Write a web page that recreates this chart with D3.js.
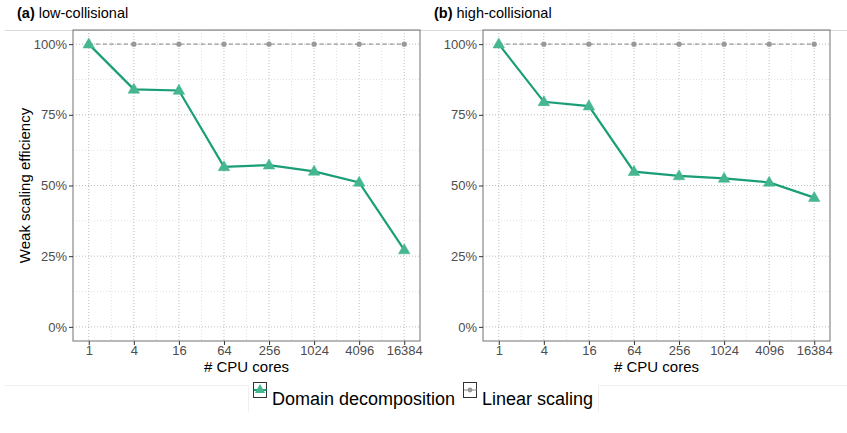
<!DOCTYPE html>
<html>
<head>
<meta charset="utf-8">
<script src="https://cdn.jsdelivr.net/npm/d3@7"></script>
<style>
  body { margin: 0; background: white; }
  text { font-family: "Liberation Sans", Arial, sans-serif; }
</style>
</head>
<body>
<div id="chart"></div>
<script>
// data
var cores = [1, 4, 16, 64, 256, 1024, 4096, 16384];
var minorCores = [2, 8, 32, 128, 512, 2048, 8192];
var yTicks = [0, 0.25, 0.5, 0.75, 1];
var yMinor = [0.125, 0.375, 0.625, 0.875];
var lowCollisional = [1.0, 0.840, 0.836, 0.566, 0.572, 0.550, 0.511, 0.272];
var highCollisional = [1.0, 0.796, 0.781, 0.549, 0.534, 0.525, 0.511, 0.457];
var linearScaling = [1, 1, 1, 1, 1, 1, 1, 1];
var panelTitles = [["(a)", " low-collisional"], ["(b)", " high-collisional"]];

var W = 847, H = 433;
var green = "#1b9e77", greenFill = "#45b690", gray = "#999999";

var svg = d3.select("#chart").append("svg")
    .attr("width", W)
    .attr("height", H);

// top separator line
svg.append("line")
    .attr("x1", 5).attr("x2", W)
    .attr("y1", 30.5).attr("y2", 30.5)
    .attr("stroke", "#d9d9d9").attr("stroke-width", 1);

var panels = [
    { left: 73, title: panelTitles[0], values: lowCollisional, titleX: 17 },
    { left: 483, title: panelTitles[1], values: highCollisional, titleX: 434 }
];
var pTop = 30, pWidth = 347, pHeight = 311;

panels.forEach(function (p, idx) {
    var expX = pWidth * 0.05 / 1.1;
    var x = d3.scaleLog().base(2)
        .domain([1, 16384])
        .range([p.left + expX, p.left + pWidth - expX]);
    var y = d3.scaleLinear()
        .domain([-0.05, 1.05])
        .range([pTop + pHeight, pTop]);

    var g = svg.append("g");

    // minor grid
    g.selectAll(".minorx").data(minorCores).enter().append("line")
        .attr("x1", d => x(d)).attr("x2", d => x(d))
        .attr("y1", pTop).attr("y2", pTop + pHeight)
        .attr("stroke", "#e2e2e2").attr("stroke-dasharray", "1,2");
    g.selectAll(".minory").data(yMinor).enter().append("line")
        .attr("x1", p.left).attr("x2", p.left + pWidth)
        .attr("y1", d => y(d)).attr("y2", d => y(d))
        .attr("stroke", "#e2e2e2").attr("stroke-dasharray", "1,2");

    // major grid
    g.selectAll(".majorx").data(cores).enter().append("line")
        .attr("x1", d => x(d)).attr("x2", d => x(d))
        .attr("y1", pTop).attr("y2", pTop + pHeight)
        .attr("stroke", "#bdbdbd").attr("stroke-dasharray", "1,2");
    g.selectAll(".majory").data(yTicks).enter().append("line")
        .attr("x1", p.left).attr("x2", p.left + pWidth)
        .attr("y1", d => y(d)).attr("y2", d => y(d))
        .attr("stroke", "#bdbdbd").attr("stroke-dasharray", "1,2");

    // linear scaling
    var lineGen = d3.line().x((d, i) => x(cores[i])).y(d => y(d));
    g.append("path")
        .datum(linearScaling)
        .attr("d", lineGen)
        .attr("fill", "none")
        .attr("stroke", gray)
        .attr("stroke-width", 1.2)
        .attr("stroke-dasharray", "4,3");
    g.selectAll(".lin").data(linearScaling).enter().append("circle")
        .attr("cx", (d, i) => x(cores[i]))
        .attr("cy", d => y(d))
        .attr("r", 2.6)
        .attr("fill", gray);

    // domain decomposition
    g.append("path")
        .datum(p.values)
        .attr("d", lineGen)
        .attr("fill", "none")
        .attr("stroke", green)
        .attr("stroke-width", 2.2);
    var tri = d3.symbol().type(d3.symbolTriangle).size(58);
    g.selectAll(".tri").data(p.values).enter().append("path")
        .attr("d", tri)
        .attr("transform", (d, i) => "translate(" + x(cores[i]) + "," + (y(d) + 0.5) + ")")
        .attr("fill", greenFill)
        .attr("stroke", greenFill)
        .attr("stroke-width", 0.5);

    // panel border
    g.append("rect")
        .attr("x", p.left).attr("y", pTop)
        .attr("width", pWidth).attr("height", pHeight)
        .attr("fill", "none")
        .attr("stroke", "#7f7f7f")
        .attr("stroke-width", 1.1);

    // axes
    var xAxis = d3.axisBottom(x).tickValues(cores).tickFormat(d => d).tickSize(4).tickPadding(1);
    var xg = g.append("g")
        .attr("transform", "translate(0," + (pTop + pHeight) + ")")
        .call(xAxis);
    var yAxis = d3.axisLeft(y).tickValues(yTicks).tickFormat(d => Math.round(d * 100) + "%").tickSize(4).tickPadding(2);
    var yg = g.append("g")
        .attr("transform", "translate(" + p.left + ",0)")
        .call(yAxis);
    [xg, yg].forEach(function (a) {
        a.select(".domain").remove();
        a.selectAll(".tick line").attr("stroke", "#333333");
        a.selectAll("text")
            .attr("fill", "#4d4d4d")
            .style("font-size", "13px")
            .style("font-family", "'Liberation Sans', Arial, sans-serif");
    });

    // axis title
    g.append("text")
        .attr("x", p.left + pWidth / 2)
        .attr("y", 372)
        .attr("text-anchor", "middle")
        .style("font-size", "15px")
        .attr("fill", "black")
        .text("# CPU cores");

    // panel title
    var t = g.append("text")
        .attr("x", p.titleX)
        .attr("y", 18)
        .style("font-size", "14.5px")
        .attr("fill", "black");
    t.append("tspan").attr("font-weight", "bold").text(p.title[0]);
    t.append("tspan").text(p.title[1]);
});

// y axis title
svg.append("text")
    .attr("transform", "translate(30," + (pTop + pHeight / 2) + ") rotate(-90)")
    .attr("text-anchor", "middle")
    .style("font-size", "15px")
    .attr("fill", "black")
    .text("Weak scaling efficiency");

// legend background faint lines
svg.append("path")
    .attr("d", "M5,385.5 H248.5 V412 M598.5,412 V385.5 H847")
    .attr("fill", "none")
    .attr("stroke", "#f0f0f0")
    .attr("stroke-width", 1);

// legend
var legendItems = [
    { label: "Domain decomposition", x: 253, type: "tri" },
    { label: "Linear scaling", x: 463, type: "dot" }
];
var lg = svg.append("g");
legendItems.forEach(function (it) {
    lg.append("rect")
        .attr("x", it.x + 0.5).attr("y", 382.5)
        .attr("width", 13).attr("height", 15)
        .attr("fill", "white")
        .attr("stroke", "#333333")
        .attr("stroke-width", 1);
    if (it.type === "tri") {
        lg.append("line")
            .attr("x1", it.x + 1).attr("x2", it.x + 13.5)
            .attr("y1", 390).attr("y2", 390)
            .attr("stroke", green).attr("stroke-width", 2);
        lg.append("path")
            .attr("d", d3.symbol().type(d3.symbolTriangle).size(45)())
            .attr("transform", "translate(" + (it.x + 7) + ",390)")
            .attr("fill", greenFill);
    } else {
        lg.append("line")
            .attr("x1", it.x + 1).attr("x2", it.x + 13.5)
            .attr("y1", 390).attr("y2", 390)
            .attr("stroke", gray).attr("stroke-width", 1.2);
        lg.append("circle")
            .attr("cx", it.x + 7).attr("cy", 390)
            .attr("r", 2.4)
            .attr("fill", gray);
    }
    lg.append("text")
        .attr("x", it.x + 19)
        .attr("y", 405)
        .style("font-size", "18px")
        .attr("fill", "black")
        .text(it.label);
});
</script>
</body>
</html>
